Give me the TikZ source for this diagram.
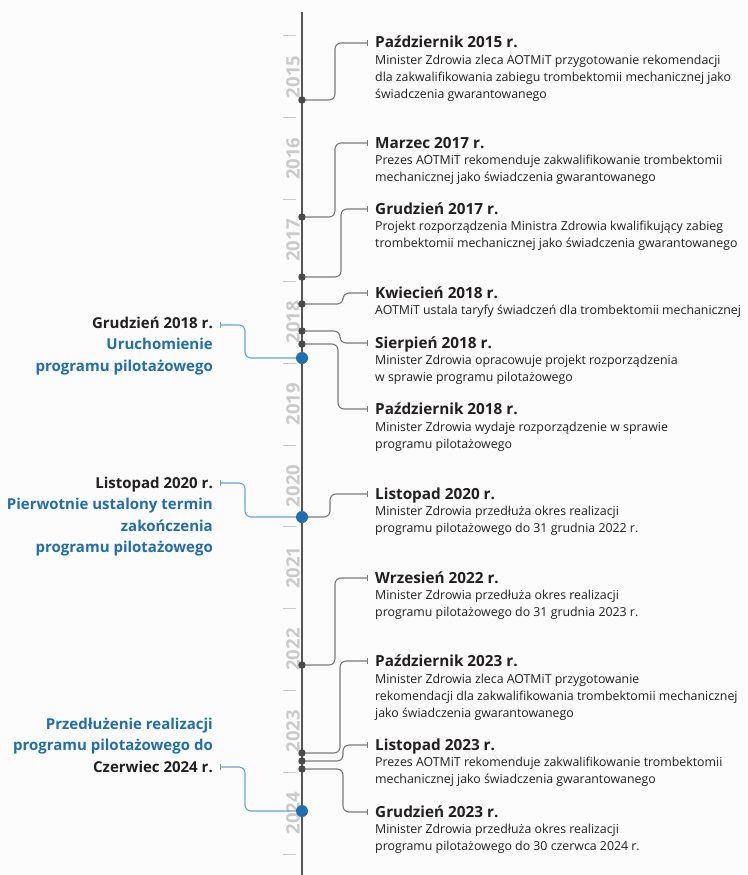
\documentclass[tikz,border=0pt]{standalone}
\usepackage{fontspec}
\setmainfont{Open Sans}
\usetikzlibrary{arrows.meta}
\definecolor{axisgray}{HTML}{555555}
\definecolor{dotgray}{HTML}{4A4A4A}
\definecolor{conngray}{HTML}{7A7A7A}
\definecolor{yeargray}{HTML}{CACACA}
\definecolor{tblue}{HTML}{1F6EB0}
\definecolor{lblue}{HTML}{6AA3D5}
\definecolor{txt}{HTML}{231F20}
\definecolor{bgc}{HTML}{FCFCFC}
\begin{document}
\begin{tikzpicture}[x=1pt,y=-1pt,
  evtitle/.style={anchor=base west,inner sep=0,font=\bfseries\fontsize{15.3}{17}\selectfont,text=txt},
  evbody/.style={anchor=base west,inner sep=0,align=left,font=\fontsize{12.35}{17}\selectfont,text=txt},
  ltext/.style={anchor=base east,inner sep=0,align=right,font=\bfseries\fontsize{15}{21.5}\selectfont,text=txt},
  yearlab/.style={rotate=90,font=\bfseries\fontsize{18.5}{18.5}\selectfont,text=yeargray,inner sep=0},
  ytick/.style={draw=yeargray,line width=1pt},
  gdot/.style={circle,fill=dotgray,minimum size=7.5pt,inner sep=0},
  bdot/.style={circle,fill=tblue,minimum size=12pt,inner sep=0},
  conn/.style={draw=conngray,line width=1.1pt,rounded corners=6pt,-{Bar[width=6pt,line width=1.1pt]}},
  bconn/.style={draw=lblue,line width=1.1pt,rounded corners=6pt,{Bar[width=6pt,line width=1.1pt]}-},
]
\fill[bgc] (0,0) rectangle (747,875);
\useasboundingbox (0,0) rectangle (747,875);

% year ticks and labels
\foreach \k in {0,...,10}
  \draw[ytick] (283,{36+81.8*\k}) -- (296,{36+81.8*\k});
\foreach \yr [count=\k from 0] in {2015,...,2024}
  \node[yearlab] (y\yr) at (293,{36+81.8*\k+40.9}) {\yr};

% axis
\coordinate (axtop) at (302,12);
\coordinate (axbot) at (302,875);
\draw[axisgray,line width=2.2pt] (axtop) -- (axbot);

% dots
\node[gdot] (d1) at (302,100) {};
\node[gdot] (d2) at (302,217) {};
\node[gdot] (d3) at (302,277) {};
\node[gdot] (d4) at (302,304) {};
\node[gdot] (d5) at (302,331) {};
\node[gdot] (d6) at (302,344) {};
\node[gdot] (d8) at (302,665) {};
\node[gdot] (d9) at (302,753) {};
\node[gdot] (d10) at (302,761) {};
\node[gdot] (d11) at (302,769) {};
\node[bdot] (bd1) at (302,358) {};
\node[bdot] (bd2) at (302,517) {};
\node[bdot] (bd3) at (302,811) {};

% connector ends (right)
\coordinate (e1) at (368,43);
\coordinate (e2) at (368,143);
\coordinate (e3) at (368,209);
\coordinate (e4) at (368,293);
\coordinate (e5) at (368,343);
\coordinate (e6) at (368,409);
\coordinate (e7) at (368,494);
\coordinate (e8) at (368,578);
\coordinate (e9) at (368,661);
\coordinate (e10) at (368,745);
\coordinate (e11) at (368,812);

\draw[conn] (d1) -- ++(33,0) |- (e1);
\draw[conn] (d2) -- ++(33,0) |- (e2);
\draw[conn] (d3) -- ++(39,0) |- (e3);
\draw[conn] (d4) -- ++(41,0) |- (e4);
\draw[conn] (d5) -- ++(38,0) |- (e5);
\draw[conn] (d6) -- ++(36,0) |- (e6);
\draw[conn] (bd2) -- ++(28,0) |- (e7);
\draw[conn] (d8) -- ++(33,0) |- (e8);
\draw[conn] (d9) -- ++(38,0) |- (e9);
\draw[conn] (d10) -- ++(41,0) |- (e10);
\draw[conn] (d11) -- ++(41,0) |- (e11);

% right texts (body anchor = baseline of last line)
\node[evtitle] (t1) at (375,48) {Październik 2015 r.};
\node[evbody] (b1) at (375,98) {Minister Zdrowia zleca AOTMiT przygotowanie rekomendacji\\dla zakwalifikowania zabiegu trombektomii mechanicznej jako\\świadczenia gwarantowanego};
\node[evtitle] (t2) at (375,148) {Marzec 2017 r.};
\node[evbody] (b2) at (375,181) {Prezes AOTMiT rekomenduje zakwalifikowanie trombektomii\\mechanicznej jako świadczenia gwarantowanego};
\node[evtitle] (t3) at (375,214) {Grudzień 2017 r.};
\node[evbody] (b3) at (375,247) {Projekt rozporządzenia Ministra Zdrowia kwalifikujący zabieg\\trombektomii mechanicznej jako świadczenia gwarantowanego};
\node[evtitle] (t4) at (375,298) {Kwiecień 2018 r.};
\node[evbody] (b4) at (375,314) {AOTMiT ustala taryfy świadczeń dla trombektomii mechanicznej};
\node[evtitle] (t5) at (375,348) {Sierpień 2018 r.};
\node[evbody] (b5) at (375,381) {Minister Zdrowia opracowuje projekt rozporządzenia\\w sprawie programu pilotażowego};
\node[evtitle] (t6) at (375,414) {Październik 2018 r.};
\node[evbody] (b6) at (375,448) {Minister Zdrowia wydaje rozporządzenie w sprawie\\programu pilotażowego};
\node[evtitle] (t7) at (375,499) {Listopad 2020 r.};
\node[evbody] (b7) at (375,532) {Minister Zdrowia przedłuża okres realizacji\\programu pilotażowego do 31 grudnia 2022 r.};
\node[evtitle] (t8) at (375,583) {Wrzesień 2022 r.};
\node[evbody] (b8) at (375,616) {Minister Zdrowia przedłuża okres realizacji\\programu pilotażowego do 31 grudnia 2023 r.};
\node[evtitle] (t9) at (375,666) {Październik 2023 r.};
\node[evbody] (b9) at (375,717) {Minister Zdrowia zleca AOTMiT przygotowanie\\rekomendacji dla zakwalifikowania trombektomii mechanicznej\\jako świadczenia gwarantowanego};
\node[evtitle] (t10) at (375,750) {Listopad 2023 r.};
\node[evbody] (b10) at (375,783) {Prezes AOTMiT rekomenduje zakwalifikowanie trombektomii\\mechanicznej jako świadczenia gwarantowanego};
\node[evtitle] (t11) at (375,817) {Grudzień 2023 r.};
\node[evbody] (b11) at (375,850) {Minister Zdrowia przedłuża okres realizacji\\programu pilotażowego do 30 czerwca 2024 r.};

% left texts (anchor = baseline of last line)
\node[ltext] (L1) at (213,371) {Grudzień 2018 r.\\\textcolor{tblue}{Uruchomienie}\\\textcolor{tblue}{programu pilotażowego}};
\node[ltext] (L2) at (213,552.5) {Listopad 2020 r.\\\textcolor{tblue}{Pierwotnie ustalony termin}\\\textcolor{tblue}{zakończenia}\\\textcolor{tblue}{programu pilotażowego}};
\node[ltext] (L3) at (213,772) {\textcolor{tblue}{Przedłużenie realizacji}\\\textcolor{tblue}{programu pilotażowego do}\\Czerwiec 2024 r.};

% left connectors
\coordinate (lc1) at (220,325);
\coordinate (lc2) at (220,483);
\coordinate (lc3) at (220,767);
\draw[bconn] (lc1) -- ++(25,0) |- (bd1);
\draw[bconn] (lc2) -- ++(25,0) |- (bd2);
\draw[bconn] (lc3) -- ++(25,0) |- (bd3);
\end{tikzpicture}
\end{document}
